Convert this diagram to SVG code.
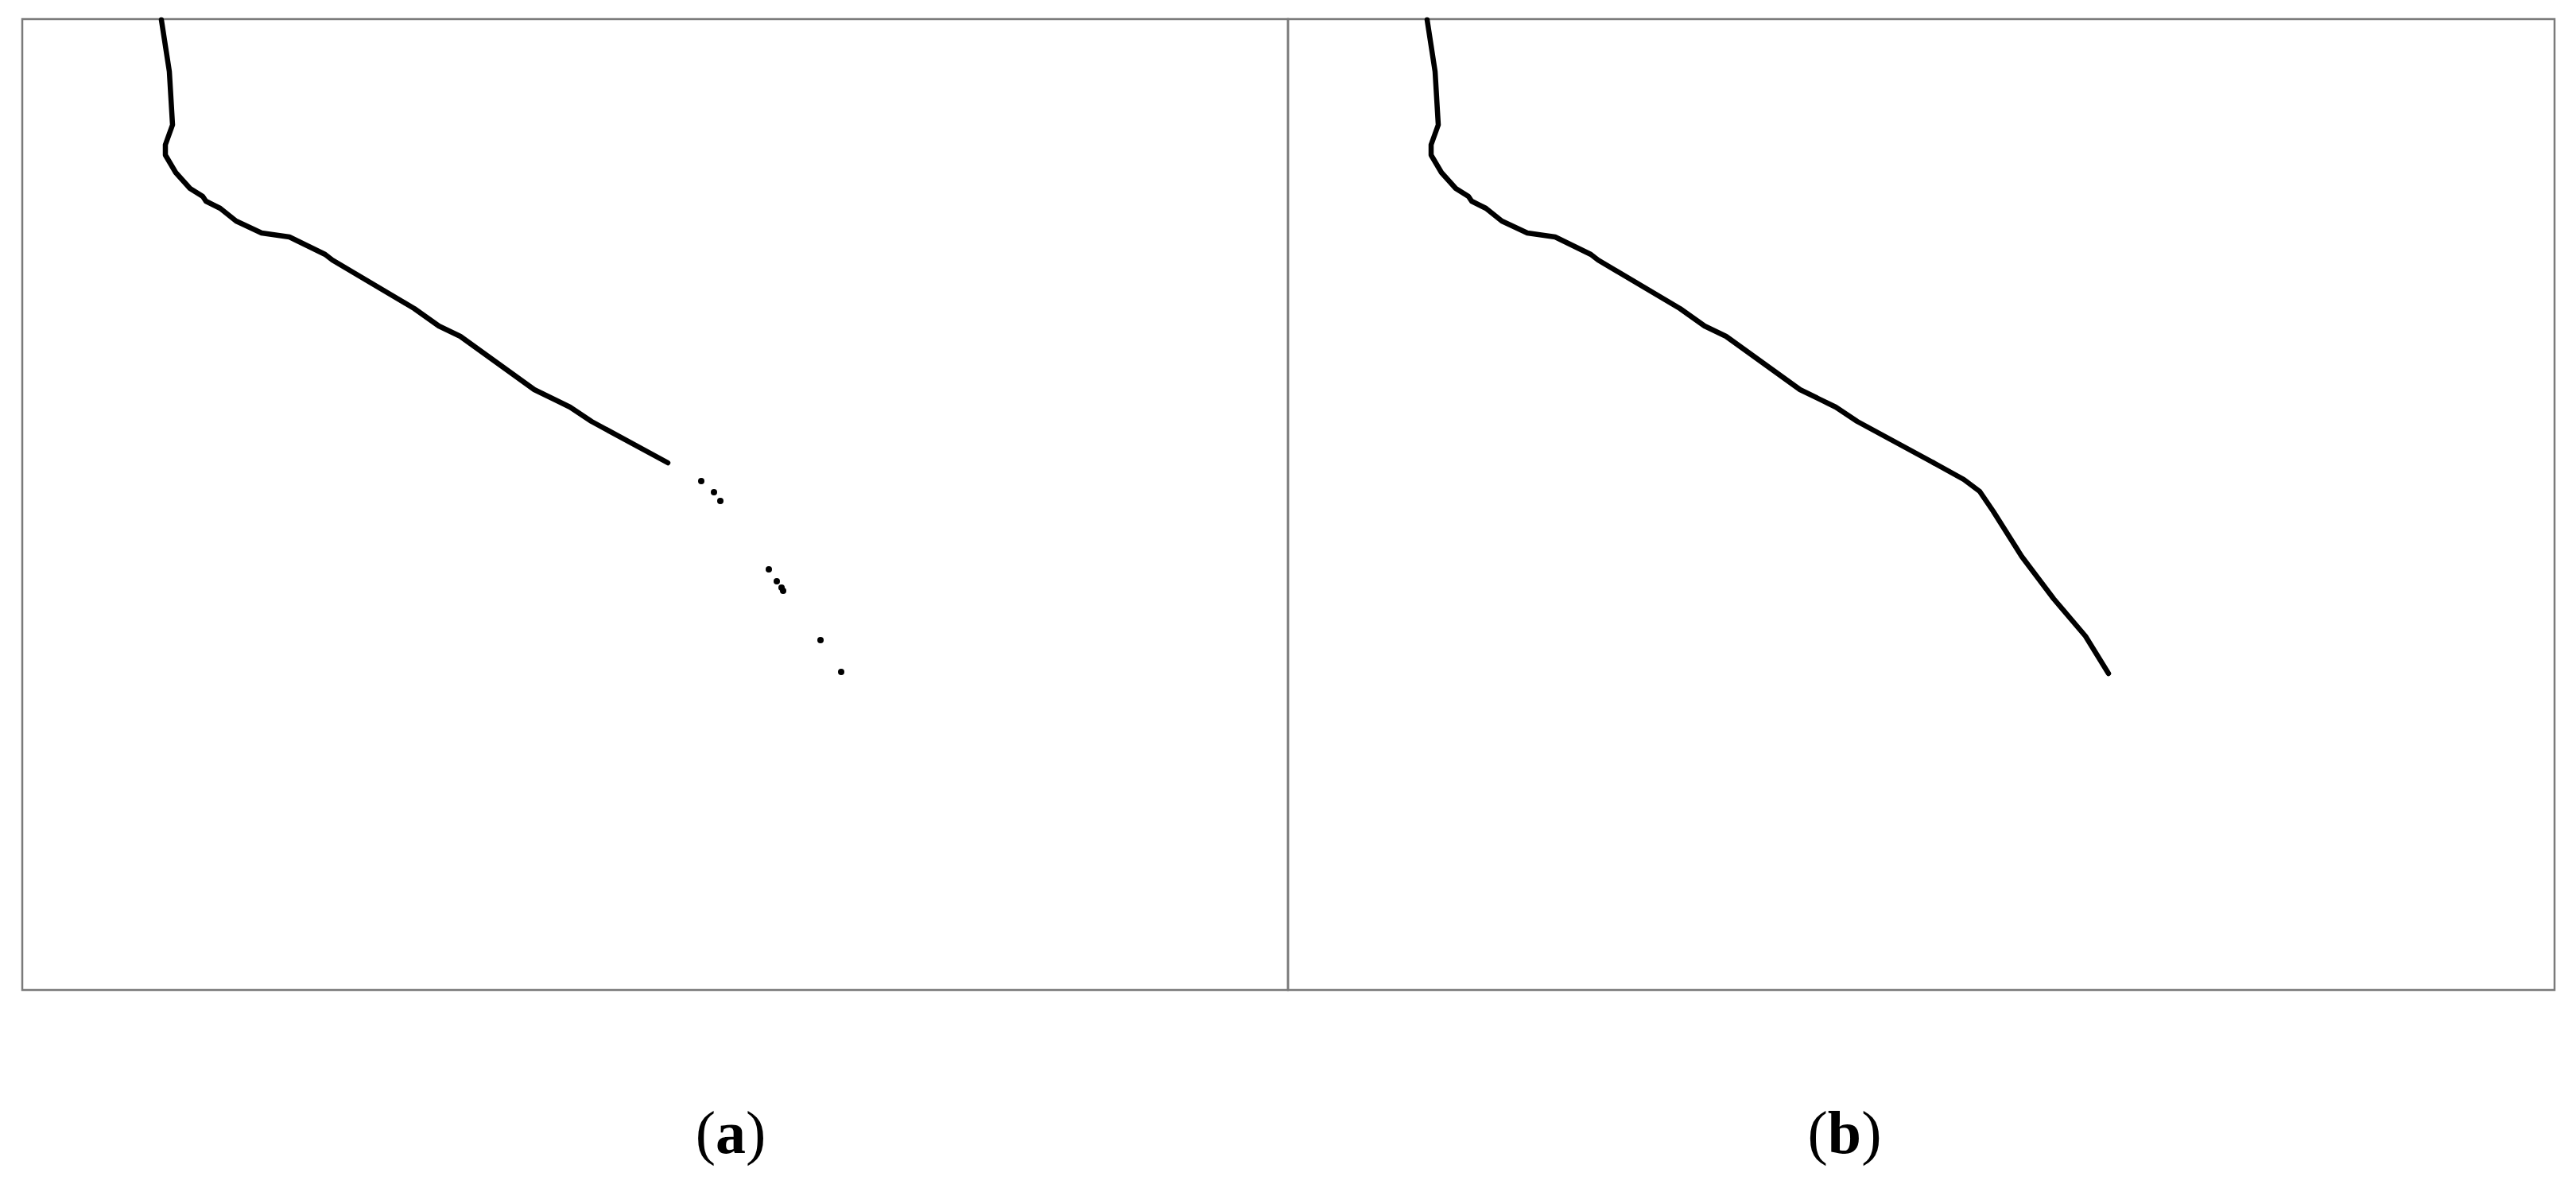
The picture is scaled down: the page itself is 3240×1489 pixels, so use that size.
<svg xmlns="http://www.w3.org/2000/svg" width="3240" height="1489" viewBox="0 0 3240 1489">
<style>
.frame{fill:none;stroke:#7a7a7a;stroke-width:2.5}
.curve{fill:none;stroke:#000;stroke-width:6.5;stroke-linejoin:round;stroke-linecap:round}
.dot{fill:#000}
.lbl{font-family:"Liberation Serif","Times New Roman",serif;font-size:76px;fill:#000;text-anchor:middle}
</style>
<defs>
<path id="crack" d="M203,25 L213,90 L217,157 L208,182 L208,195 L221,217 L239,237 L255,247 L259,253 L277,262 L297,278 L329,293 L364,298 L409,320 L418,327 L521,388 L552,410 L579,423 L672,490 L717,512 L744,530 L840,582"/>
</defs>
<rect width="3240" height="1489" fill="#fff"/>
<g id="panel-a">
<rect class="frame" x="28" y="24" width="1592" height="1221"/>
<use href="#crack" class="curve"/>
<g id="points-a">
<circle class="dot" cx="882" cy="605" r="4"/>
<circle class="dot" cx="898" cy="619" r="4"/>
<circle class="dot" cx="906" cy="630" r="4"/>
<circle class="dot" cx="967" cy="716" r="4"/>
<circle class="dot" cx="977" cy="731" r="4"/>
<circle class="dot" cx="983" cy="739" r="4"/>
<circle class="dot" cx="985" cy="743" r="4"/>
<circle class="dot" cx="1032" cy="805" r="4"/>
<circle class="dot" cx="1058" cy="845" r="4"/>
</g>
</g>
<g id="panel-b">
<rect class="frame" x="1620" y="24" width="1593" height="1221"/>
<use href="#crack" class="curve" transform="translate(1592,0)"/>
<path class="curve" d="M2432,582 L2470,603 L2490,618 L2507,643 L2543,700 L2583,753 L2623,800 L2652,847"/>
</g>
<g id="labels">
<text class="lbl" x="919" y="1450">(<tspan font-weight="bold">a</tspan>)</text>
<text class="lbl" x="2320" y="1450">(<tspan font-weight="bold">b</tspan>)</text>
</g>
</svg>
